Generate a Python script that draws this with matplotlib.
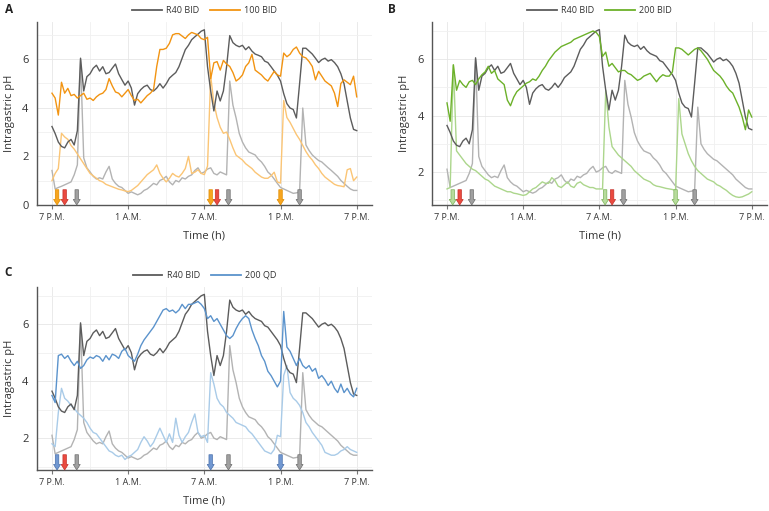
import numpy as np
import matplotlib.pyplot as plt
from matplotlib.lines import Line2D
from matplotlib.ticker import FixedLocator

plt.rcParams['font.family'] = ['Open Sans', 'DejaVu Sans']

# time after first dose, 15 min steps (0 = 7 P.M.)
hours = np.arange(0, 24.01, 0.25)
tick_hours = [0, 6, 12, 18, 24]
tick_labels = ['7 P.M.', '1 A.M.', '7 A.M.', '1 P.M.', '7 P.M.']

# R40 BID, panel B / C scale (one row = one hour)
r40_dark = [
    3.65, 3.40, 3.10, 2.95,
    2.90, 3.10, 3.20, 3.00,
    3.50, 6.05, 4.90, 5.40,
    5.50, 5.70, 5.80, 5.60,
    5.75, 5.50, 5.55, 5.70,
    5.85, 5.50, 5.30, 5.10,
    5.25, 5.00, 4.40, 4.80,
    4.95, 5.05, 5.10, 4.95,
    4.90, 5.00, 5.15, 5.00,
    5.15, 5.35, 5.45, 5.55,
    5.75, 6.05, 6.35, 6.50,
    6.70, 6.80, 6.90, 7.00,
    7.05, 5.75, 4.90, 4.20,
    4.90, 4.55, 4.90, 5.75,
    6.85, 6.60, 6.50, 6.45,
    6.50, 6.35, 6.45, 6.30,
    6.20, 6.15, 6.10, 5.95,
    5.90, 5.75, 5.60, 5.45,
    5.25, 4.80, 4.45, 4.30,
    4.25, 3.95, 5.15, 6.40,
    6.40, 6.30, 6.20, 6.05,
    5.90, 6.00, 6.05, 5.95,
    6.00, 5.90, 5.75, 5.50,
    5.15, 4.55, 3.95, 3.55,
    3.50]
r40_light = [
    2.10, 1.45, 1.50, 1.55,
    1.60, 1.65, 1.70, 1.95,
    2.30, 6.00, 2.55, 2.20,
    2.05, 1.90, 1.80, 1.85,
    1.80, 2.05, 2.25, 1.80,
    1.65, 1.55, 1.50, 1.40,
    1.30, 1.35, 1.30, 1.25,
    1.30, 1.40, 1.45, 1.55,
    1.65, 1.60, 1.75, 1.80,
    1.90, 1.70, 1.60, 1.75,
    1.70, 1.85, 1.80, 1.90,
    1.95, 2.10, 2.20, 2.00,
    2.05, 2.15, 2.20, 2.00,
    1.95, 2.05, 2.00, 1.95,
    5.25, 4.40, 3.95, 3.40,
    3.10, 2.90, 2.75, 2.70,
    2.65, 2.50, 2.40, 2.25,
    2.05, 1.95, 1.80, 1.65,
    1.50, 1.45, 1.40, 1.35,
    1.30, 1.32, 1.35, 4.30,
    3.00, 2.80, 2.65, 2.55,
    2.45, 2.40, 2.30, 2.20,
    2.10, 2.00, 1.90, 1.75,
    1.65, 1.55, 1.45, 1.40,
    1.40]

# R40 BID as read on the panel A axis
r40_dark_a = [
    3.23, 2.94, 2.59, 2.41,
    2.35, 2.59, 2.70, 2.47,
    3.06, 6.04, 4.69, 5.28,
    5.40, 5.63, 5.75, 5.51,
    5.69, 5.40, 5.45, 5.63,
    5.80, 5.40, 5.16, 4.93,
    5.10, 4.81, 4.11, 4.58,
    4.75, 4.87, 4.93, 4.75,
    4.69, 4.81, 4.99, 4.81,
    4.99, 5.22, 5.34, 5.45,
    5.69, 6.04, 6.39, 6.57,
    6.80, 6.92, 7.03, 7.15,
    7.21, 5.69, 4.69, 3.87,
    4.69, 4.28, 4.69, 5.69,
    6.97, 6.68, 6.57, 6.51,
    6.57, 6.39, 6.51, 6.33,
    6.21, 6.16, 6.10, 5.92,
    5.86, 5.69, 5.51, 5.34,
    5.10, 4.58, 4.17, 3.99,
    3.93, 3.58, 4.99, 6.45,
    6.45, 6.33, 6.21, 6.04,
    5.86, 5.98, 6.04, 5.92,
    5.98, 5.86, 5.69, 5.40,
    4.99, 4.28, 3.58, 3.11,
    3.06]
r40_light_a = [
    1.42, 0.66, 0.72, 0.77,
    0.83, 0.89, 0.95, 1.24,
    1.65, 5.98, 1.94, 1.53,
    1.36, 1.18, 1.07, 1.12,
    1.07, 1.36, 1.59, 1.07,
    0.89, 0.77, 0.72, 0.60,
    0.48, 0.54, 0.48, 0.42,
    0.48, 0.60, 0.66, 0.77,
    0.89, 0.83, 1.01, 1.07,
    1.18, 0.95, 0.83, 1.01,
    0.95, 1.12, 1.07, 1.18,
    1.24, 1.42, 1.53, 1.30,
    1.36, 1.48, 1.53, 1.30,
    1.24, 1.36, 1.30, 1.24,
    5.10, 4.11, 3.58, 2.94,
    2.59, 2.35, 2.18, 2.12,
    2.06, 1.89, 1.77, 1.59,
    1.36, 1.24, 1.07, 0.89,
    0.72, 0.66, 0.60, 0.54,
    0.48, 0.50, 0.54, 3.99,
    2.47, 2.24, 2.06, 1.94,
    1.83, 1.77, 1.65, 1.53,
    1.42, 1.30, 1.18, 1.01,
    0.89, 0.77, 0.66, 0.60,
    0.60]

# 100 BID (panel A)
bid100_dark = [
    4.60, 4.40, 3.70, 5.05,
    4.60, 4.80, 4.50, 4.55,
    4.40, 4.50, 4.60, 4.35,
    4.40, 4.30, 4.45, 4.55,
    4.60, 4.75, 5.20, 4.90,
    4.65, 4.60, 4.45, 4.60,
    4.75, 4.50, 4.30, 4.35,
    4.20, 4.35, 4.50, 4.60,
    4.75, 5.70, 6.40, 6.40,
    6.45, 6.65, 7.00, 7.05,
    7.05, 6.95, 6.85, 7.00,
    7.10, 7.05, 7.00, 6.85,
    6.80, 6.90, 5.20, 5.85,
    5.90, 5.55, 5.95, 5.80,
    5.70, 5.45, 5.10, 5.20,
    5.35, 5.70, 5.85, 6.20,
    5.55, 5.45, 5.35, 5.20,
    5.10, 5.30, 5.50, 5.35,
    5.30, 6.25, 6.10, 6.20,
    6.40, 6.50, 6.25, 6.10,
    6.05, 5.90, 5.70, 5.15,
    5.50, 5.30, 5.10, 5.00,
    4.90, 4.60, 4.05, 5.00,
    5.15, 5.05, 4.95, 5.30,
    4.45]
bid100_light = [
    1.00, 1.30, 1.50, 2.95,
    2.80, 2.70, 2.45, 2.30,
    2.10, 1.90, 1.70, 1.50,
    1.30, 1.20, 1.10, 1.00,
    0.95, 0.85, 0.80, 0.75,
    0.70, 0.65, 0.62, 0.58,
    0.55, 0.60, 0.70, 0.80,
    0.95, 1.10, 1.25, 1.35,
    1.45, 1.65, 1.30, 1.10,
    0.95, 1.10, 1.30, 1.20,
    1.15, 1.30, 1.50, 2.00,
    1.30, 1.35, 1.45, 1.30,
    1.25, 1.60, 5.30, 4.20,
    3.60, 3.20, 2.95, 3.00,
    2.70, 2.35, 2.05, 1.95,
    1.85, 1.70, 1.60, 1.50,
    1.35, 1.25, 1.15, 1.10,
    1.10, 1.20, 1.35, 0.95,
    0.90, 4.30, 3.60, 3.40,
    3.15, 2.90, 2.70, 2.45,
    2.20, 2.00, 1.85, 1.65,
    1.50, 1.30, 1.15, 1.05,
    0.95, 0.85, 0.80, 0.78,
    0.75, 1.45, 1.50, 1.00,
    1.15]

# 200 BID (panel B)
bid200_dark = [
    4.45, 3.80, 5.80, 4.90,
    5.25, 5.10, 5.00, 5.20,
    5.25, 5.10, 5.30, 5.45,
    5.55, 5.75, 5.50, 5.60,
    5.30, 5.20, 5.10, 4.55,
    4.35, 4.65, 4.85, 4.95,
    5.05, 5.15, 5.20, 5.30,
    5.25, 5.40, 5.60, 5.75,
    5.95, 6.10, 6.25, 6.35,
    6.45, 6.50, 6.55, 6.60,
    6.70, 6.75, 6.80, 6.85,
    6.90, 6.95, 7.00, 6.95,
    6.80, 6.10, 6.25, 5.75,
    5.85, 5.70, 5.55, 5.60,
    5.60, 5.50, 5.45, 5.35,
    5.25, 5.30, 5.40, 5.45,
    5.50, 5.35, 5.20, 5.35,
    5.45, 5.40, 5.40, 5.55,
    6.40, 6.40, 6.35, 6.25,
    6.15, 6.25, 6.35, 6.40,
    6.30, 6.15, 6.00, 5.80,
    5.60, 5.50, 5.40, 5.25,
    5.05, 4.90, 4.80, 4.55,
    4.30, 3.95, 3.50, 4.20,
    3.95]
bid200_light = [
    1.40, 1.45, 5.80, 2.75,
    2.60, 2.45, 2.30, 2.20,
    2.10, 2.05, 1.95, 1.85,
    1.75, 1.70, 1.60, 1.50,
    1.45, 1.40, 1.35, 1.30,
    1.30, 1.25, 1.23, 1.20,
    1.17, 1.20, 1.30, 1.40,
    1.45, 1.55, 1.65, 1.60,
    1.60, 1.80, 1.70, 1.50,
    1.45, 1.55, 1.65, 1.50,
    1.45, 1.60, 1.65, 1.55,
    1.50, 1.45, 1.45, 1.40,
    1.40, 1.40, 4.90, 3.60,
    2.90, 2.75, 2.60, 2.50,
    2.40, 2.30, 2.20, 2.05,
    1.95, 1.85, 1.75, 1.70,
    1.65, 1.55, 1.50, 1.48,
    1.45, 1.42, 1.40, 1.38,
    1.35, 4.60, 3.35, 3.00,
    2.65, 2.40, 2.20, 2.05,
    1.95, 1.85, 1.75, 1.70,
    1.65, 1.55, 1.50, 1.42,
    1.35, 1.25, 1.17, 1.12,
    1.10, 1.12, 1.17, 1.22,
    1.30]

# 200 QD (panel C)
qd200_dark = [
    3.50, 3.25, 4.90, 4.95,
    4.80, 4.90, 4.70, 4.55,
    4.70, 4.45, 4.55, 4.75,
    4.85, 4.80, 4.90, 4.85,
    4.70, 4.90, 4.75, 4.95,
    4.90, 4.80, 5.05, 5.15,
    4.90, 4.80, 4.70, 4.95,
    5.25, 5.45, 5.60, 5.75,
    5.90, 6.10, 6.30, 6.50,
    6.55, 6.45, 6.50, 6.40,
    6.50, 6.70, 6.55, 6.70,
    6.70, 6.75, 6.80, 6.70,
    6.55, 6.20, 6.30, 6.10,
    6.20, 6.00, 5.80, 5.60,
    5.50, 5.60, 5.85, 6.05,
    6.20, 6.30, 6.20, 5.80,
    5.50, 5.25, 4.90, 4.70,
    4.35, 4.20, 4.00, 3.80,
    4.00, 6.45, 5.20, 5.05,
    4.80, 4.55, 4.80, 4.55,
    4.45, 4.55, 4.35, 4.45,
    4.10, 4.20, 4.05, 3.85,
    4.00, 3.75, 3.60, 3.90,
    3.60, 3.75, 3.55, 3.45,
    3.75]
qd200_light = [
    1.80, 1.70, 2.90, 3.75,
    3.40, 3.30, 3.15, 3.05,
    2.90, 2.80, 2.70, 2.55,
    2.35, 2.20, 2.15, 2.00,
    1.85, 1.70, 1.55, 1.50,
    1.40, 1.35, 1.40, 1.25,
    1.35, 1.40, 1.50, 1.60,
    1.85, 2.05, 1.90, 1.70,
    1.85, 2.10, 2.35, 2.10,
    1.85, 2.15, 1.85, 2.70,
    2.10, 1.85, 2.05, 2.20,
    2.55, 2.85, 2.20, 2.05,
    2.10, 1.85, 4.30, 3.90,
    3.40, 3.20, 3.10, 2.90,
    2.80, 2.70, 2.55, 2.50,
    2.45, 2.40, 2.25, 2.15,
    2.00, 1.85, 1.70, 1.55,
    1.50, 1.45, 1.60, 2.10,
    2.05, 4.20, 4.55, 3.60,
    3.40, 3.30, 3.15, 2.90,
    2.55, 2.40, 2.20, 2.05,
    1.90, 1.75, 1.50, 1.45,
    1.40, 1.40, 1.45, 1.55,
    1.60, 1.70, 1.60, 1.55,
    1.50]

# dosing arrows (hours)
dose_a_hours = [0.4, 12.5, 18.0]
dose_b_hours = [0.45, 12.45, 18.0]
dose_c_hours = [0.4, 12.5, 18.0]
red_hours = [1.0, 13.0]
red_hours_c = [1.0]
r40_dose_hours = [1.95, 13.9, 19.5]

GREY_DARK = '#5c5c5c'
GREY_LIGHT = '#b3b3b3'
RED = ('#ea4a3f', '#c4302a')
GREY_ARROW = ('#a0a0a0', '#6e6e6e')

fig = plt.figure(figsize=(7.69, 5.11), dpi=100)


def draw_panel(rect, letter, letter_xy, dose_label, g_dark, g_light, dark,
               light, c_dark, c_light, arrows, ylim, yticks):
    ax = fig.add_axes(rect)
    ax.plot(hours, g_light, color=GREY_LIGHT, lw=1.0)
    ax.plot(hours, light, color=c_light, lw=1.0)
    ax.plot(hours, g_dark, color=GREY_DARK, lw=1.0)
    ax.plot(hours, dark, color=c_dark, lw=1.0)

    for h, fc, ec in arrows:
        ax.annotate('', xy=(h, ylim[0]), xytext=(0, 11),
                    textcoords='offset points', annotation_clip=False,
                    arrowprops=dict(arrowstyle='simple,head_length=0.4,'
                                    'head_width=0.5,tail_width=0.25',
                                    fc=fc, ec=ec, lw=0.5, shrinkA=0,
                                    shrinkB=0, mutation_scale=10))

    ax.set_xlim(-1.18, 25.2)
    ax.set_ylim(*ylim)
    ax.set_xticks(tick_hours)
    ax.set_xticklabels(tick_labels)
    ax.xaxis.set_minor_locator(FixedLocator([3, 9, 15, 21]))
    ax.set_yticks(yticks)
    ax.yaxis.set_minor_locator(FixedLocator([1, 3, 5, 7]))
    ax.grid(which='major', color='#e6e6e6', lw=0.6)
    ax.grid(which='minor', color='#f0f0f0', lw=0.6)
    ax.set_axisbelow(True)
    for s in ['top', 'right']:
        ax.spines[s].set_visible(False)
    for s in ['left', 'bottom']:
        ax.spines[s].set_color('#555555')
        ax.spines[s].set_linewidth(1.0)
    ax.tick_params(axis='x', which='major', labelsize=6.5, length=3,
                   color='#777777', labelcolor='#333333', pad=3)
    ax.tick_params(axis='y', which='major', labelsize=8, length=0,
                   labelcolor='#333333', pad=6)
    ax.tick_params(which='minor', length=0)
    ax.set_xlabel('Time (h)', fontsize=8, color='#333333', labelpad=6)
    ax.set_ylabel('Intragastric pH', fontsize=8, color='#333333', labelpad=5)

    handles = [Line2D([], [], color=GREY_DARK, lw=1.3),
               Line2D([], [], color=c_dark, lw=1.3)]
    ax.legend(handles, ['R40 BID', dose_label], ncol=2, loc='lower center',
              bbox_to_anchor=(0.5, 1.02), frameon=False, fontsize=6.5,
              handlelength=3.3, handletextpad=0.5, columnspacing=1.2,
              borderaxespad=0, labelcolor='#333333')

    fig.text(letter_xy[0], letter_xy[1], letter, fontsize=8.5,
             weight='bold', va='center', ha='left', color='#222222')
    return ax


arrows_a = ([(h, '#f7a51f', '#e08c00') for h in dose_a_hours]
            + [(h,) + RED for h in red_hours]
            + [(h,) + GREY_ARROW for h in r40_dose_hours])
arrows_b = ([(h, '#b7dc9c', '#7cb35a') for h in dose_b_hours]
            + [(h,) + RED for h in red_hours]
            + [(h,) + GREY_ARROW for h in r40_dose_hours])
arrows_c = ([(h, '#7198d2', '#4a70aa') for h in dose_c_hours]
            + [(h,) + RED for h in red_hours_c]
            + [(h,) + GREY_ARROW for h in r40_dose_hours])

draw_panel([0.0481, 0.5988, 0.4356, 0.3582], 'A', (0.006, 0.981), '100 BID',
           r40_dark_a, r40_light_a, bid100_dark, bid100_light,
           '#f29412', '#fbc575', arrows_a, (0, 7.53), [0, 2, 4, 6])
draw_panel([0.5618, 0.5988, 0.4356, 0.3582], 'B', (0.505, 0.981), '200 BID',
           r40_dark, r40_light, bid200_dark, bid200_light,
           '#6cb12a', '#acd68c', arrows_b, (0.83, 7.32), [2, 4, 6])
draw_panel([0.0481, 0.0802, 0.4356, 0.3582], 'C', (0.006, 0.466), '200 QD',
           r40_dark, r40_light, qd200_dark, qd200_light,
           '#5b93cc', '#a9cbe8', arrows_c, (0.88, 7.31), [2, 4, 6])

fig.savefig('out.png', dpi=100)
